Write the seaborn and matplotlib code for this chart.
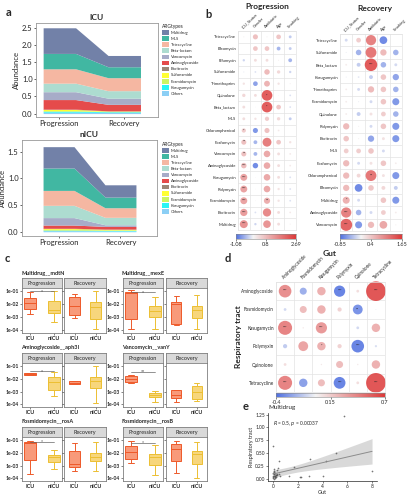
import numpy as np
import pandas as pd
import matplotlib
matplotlib.use("Agg")
import matplotlib.pyplot as plt
import seaborn as sns
from matplotlib.patches import Patch
from matplotlib.colors import LinearSegmentedColormap, TwoSlopeNorm

sns.set_theme(style="ticks")
plt.rcParams['font.family'] = ['Lato', 'DejaVu Sans']

W, H = 413, 500

# ---------------- data ----------------
# a: stacked abundance
arg_types = ["Multidrug", "MLS", "Tetracycline", "Beta-lactam", "Vancomycin", "Aminoglycoside",
             "Bacitracin", "Sulfonamide", "Fosmidomycin", "Kasugamycin", "Others"]
arg_colors = ["#7281A8", "#41B7A2", "#F5B7A2", "#ADDCD0", "#A7ACC8", "#E54B4B",
              "#9D8777", "#FFFF33", "#CCF562", "#2AF5F5", "#8CCFF5"]
stages = ["Progression", "Recovery"]
icu_prog = [0.75, 0.45, 0.42, 0.25, 0.23, 0.28, 0.01, 0.03, 0.02, 0.03, 0.04]
icu_rec = [0.33, 0.32, 0.38, 0.22, 0.18, 0.19, 0.005, 0.01, 0.01, 0.02, 0.035]
nicu_prog = [0.40, 0.42, 0.28, 0.23, 0.14, 0.06, 0.005, 0.015, 0.015, 0.01, 0.02]
nicu_rec = [0.23, 0.20, 0.18, 0.14, 0.03, 0.05, 0.005, 0.01, 0.01, 0.01, 0.015]

# b: correlation bubbles
b_cols = ["ICU_Status", "Gender", "Antibiotic", "Age", "Smoking"]
prog_rows = ["Tetracycline", "Bleomycin", "Rifamycin", "Sulfonamide", "Trimethoprim", "Quinolone",
             "Beta_lactam", "MLS", "Chloramphenicol", "Fosfomycin", "Vancomycin", "Aminoglycoside",
             "Kasugamycin", "Polymyxin", "Fosmidomycin", "Bacitracin", "Multidrug"]
prog_vals = [[0.1, 0.9, 0.1, 0.8, -0.4],
             [0.0, 0.8, 0.8, -0.6, -0.4],
             [-0.3, 0.4, 0.4, 0.1, -0.6],
             [-0.1, -0.2, 1.0, 0.5, -0.3],
             [0.3, -0.8, 1.1, 0.3, 0.1],
             [0.5, 0.4, 2.6, 0.05, -0.2],
             [0.4, 0.05, 2.6, 0.8, -0.2],
             [0.4, 0.3, 0.7, 0.5, -0.4],
             [0.7, -0.9, 0.9, 0.2, 0.0],
             [0.9, -0.6, 2.0, 0.8, 0.3],
             [0.9, -0.6, 1.3, 0.4, 0.2],
             [1.0, -1.0, 1.3, 0.4, 0.2],
             [1.4, 0.05, 1.3, 0.4, -0.2],
             [1.4, 0.05, 1.3, 0.3, -0.2],
             [1.4, 0.05, 1.2, 0.3, -0.2],
             [1.5, -0.2, 1.8, 0.4, 0.2],
             [1.7, -0.3, 1.6, 0.4, 0.1]]
prog_sig = [("Quinolone", "Antibiotic", "*"), ("Beta_lactam", "Antibiotic", "*"),
            ("Chloramphenicol", "ICU_Status", "*"), ("Fosfomycin", "ICU_Status", "**"),
            ("Vancomycin", "ICU_Status", "**"), ("Aminoglycoside", "ICU_Status", "***"),
            ("Kasugamycin", "ICU_Status", "***"), ("Polymyxin", "ICU_Status", "***"),
            ("Fosmidomycin", "ICU_Status", "***"), ("Fosmidomycin", "Antibiotic", "**"),
            ("Bacitracin", "ICU_Status", "***"), ("Multidrug", "ICU_Status", "***")]
prog_range = (-1.08, 2.69)
prog_ticks = ["-1.08", "0.8", "2.69"]

rec_rows = ["Tetracycline", "Sulfonamide", "Beta_lactam", "Kasugamycin", "Trimethoprim", "Fosmidomycin",
            "Quinolone", "Polymyxin", "Bacitracin", "MLS", "Fosfomycin", "Chloramphenicol",
            "Bleomycin", "Multidrug", "Aminoglycoside", "Vancomycin"]
rec_vals = [[-0.2, 0.4, 1.2, -0.8, 0.0],
            [-0.05, -0.5, 1.3, 0.6, -0.5],
            [0.1, -0.3, 1.6, -0.5, -0.2],
            [-0.05, -0.1, -0.3, 0.5, -0.6],
            [0.1, -0.2, 0.6, 0.5, -0.5],
            [0.1, -0.05, -0.2, 0.5, -0.7],
            [0.1, -0.3, 0.2, 0.4, -0.5],
            [0.6, 0.05, -0.2, 0.5, -0.7],
            [0.5, 0.05, -0.6, 0.2, -0.7],
            [0.4, 0.4, 0.5, -0.2, 0.0],
            [0.6, -0.2, 0.2, 0.5, 0.1],
            [0.6, 0.3, 1.3, 0.2, -0.7],
            [0.6, -0.8, 0.5, 0.3, -0.3],
            [0.7, -0.2, 0.0, 0.5, -0.7],
            [1.2, -0.5, -0.2, 0.4, 0.1],
            [1.5, -0.7, 0.6, 0.8, 0.05]]
rec_sig = [("Beta_lactam", "Antibiotic", "***"), ("Chloramphenicol", "Antibiotic", "**"),
           ("Multidrug", "ICU_Status", "*"), ("Aminoglycoside", "ICU_Status", "***"),
           ("Vancomycin", "ICU_Status", "***")]
rec_range = (-0.85, 1.65)
rec_ticks = ["-0.85", "0.4", "1.65"]

# c: box summaries, log10 [min, q1, median, q3, max] for ICU/nICU x Progression/Recovery
mdtN = [[-2.74, -2.36, -1.9, -1.51, -1.05], [-3.38, -2.67, -2.41, -1.77, -1.0],
        [-3.05, -2.8, -2.1, -1.46, -1.2], [-3.9, -3.1, -2.23, -1.82, -1.0]]
mexE = [[-3.9, -3.1, -1.15, -1.08, -0.9], [-3.9, -3.0, -2.52, -2.1, -1.47],
        [-3.6, -3.5, -2.0, -1.85, -1.35], [-3.9, -3.05, -2.45, -2.1, -1.28]]
aph3I = [[-1.68, -1.66, -1.6, -1.55, -1.53], [-3.3, -2.87, -2.25, -1.85, -1.45],
         [-2.4, -2.38, -2.28, -2.15, -2.13], [-3.85, -2.73, -2.15, -1.85, -1.0]]
vanY = [[-2.3, -2.2, -2.0, -1.8, -1.68], [-3.8, -3.42, -3.25, -3.12, -2.92],
        [-3.8, -3.5, -3.25, -2.88, -2.86], [-3.75, -3.55, -3.05, -2.55, -2.33]]
rosA = [[-3.63, -2.55, -1.2, -1.15, -1.08], [-3.25, -2.68, -2.33, -2.18, -1.75],
        [-3.43, -3.08, -2.88, -1.83, -1.25], [-3.43, -2.63, -2.3, -2.0, -1.13]]
rosB = [[-2.8, -2.45, -1.95, -1.47, -1.08], [-3.7, -2.95, -2.32, -2.05, -1.34],
        [-3.6, -2.63, -1.68, -1.26, -1.08], [-3.95, -2.87, -2.08, -1.87, -1.13]]
genes = ["Multidrug__mdtN", "Multidrug__mexE", "Aminoglycoside__aph3I",
         "Vancomycin__vanY", "Fosmidomycin__rosA", "Fosmidomycin__rosB"]
gene_vals = [mdtN, mexE, aph3I, vanY, rosA, rosB]
sig_level = [-1.0, -1.08, -1.4, -1.45, -1.12, -1.2]
sig_text = ["*", "*", "*", "**", "*", "*"]
groups = ["ICU", "nICU"]
log_ticks = [-4, -3, -2, -1]
log_labels = ["1e-04", "1e-03", "1e-02", "1e-01"]

# d: gut vs respiratory tract
d_names = ["Aminoglycoside", "Fosmidomycin", "Kasugamycin", "Polymyxin", "Quinolone", "Tetracycline"]
d_vals = [[0.45, -0.25, 0.3, -0.4, 0.1, 0.7],
          [-0.1, 0.25, 0.3, 0.15, -0.35, -0.03],
          [0.5, 0.05, 0.4, 0.0, -0.1, 0.3],
          [-0.15, 0.35, 0.3, 0.15, -0.45, -0.08],
          [0.1, 0.0, 0.05, 0.25, 0.05, 0.3],
          [0.5, -0.3, 0.25, -0.42, 0.1, 0.75]]
d_sig = [("Aminoglycoside", "Aminoglycoside", "***"), ("Aminoglycoside", "Polymyxin", "***"),
         ("Aminoglycoside", "Tetracycline", "***"), ("Fosmidomycin", "Quinolone", "**"),
         ("Kasugamycin", "Aminoglycoside", "***"), ("Kasugamycin", "Kasugamycin", "***"),
         ("Polymyxin", "Kasugamycin", "*"), ("Polymyxin", "Quinolone", "***"),
         ("Tetracycline", "Aminoglycoside", "***"), ("Tetracycline", "Polymyxin", "***"),
         ("Tetracycline", "Tetracycline", "***")]
d_range = (-0.4, 0.7)
d_ticks = ["-0.4", "0.15", "0.7"]

# e: multidrug scatter
gut = [0.0, 5.7, 5.13, 3.03, 4.26, 1.7, 0.45, 0.37, 0.3, 1.3, 2.15, 2.3, 2.95, 4.05, 8.0,
       0.58, 0.05, 0.1, 0.15, 0.2, 0.08, 0.25, 0.0, 0.12, 0.02, 0.06, 0.18, 0.3, 0.1, 0.22,
       0.04, 0.14, 0.35, 0.01, 0.28, 0.09, 0.5, 0.16]
resp = [0.64, 1.22, 0.5, 0.38, 0.34, 0.23, 0.34, 0.21, 0.17, 0.06, 0.03, 0.04, 0.06, 0.05, 0.15,
        0.05, 0.1, 0.05, 0.12, 0.02, 0.0, 0.07, 0.03, 0.2, 0.06, 0.09, 0.04, 0.1, 0.13, 0.08,
        0.01, 0.06, 0.07, 0.12, 0.03, 0.15, 0.09, 0.05]

cmap = LinearSegmentedColormap.from_list("rb", ["#4F70E0", "#F4F4F4", "#DC3A3A"])

fig = plt.figure(figsize=(W / 100, H / 100), dpi=100)


def px_axes(x0, y0, x1, y1):
    return fig.add_axes([x0 / W, 1 - y1 / H, (x1 - x0) / W, (y1 - y0) / H])


def px_text(x, y, s, **kw):
    fig.text(x / W, 1 - y / H, s, **kw)


def gray_box(ax, c="#999999", lw=0.6):
    for sp in ax.spines.values():
        sp.set_visible(True)
        sp.set_color(c)
        sp.set_linewidth(lw)


#####################
# a
#####################
def area_panel(box, title, prog, rec, xlim, ylim, yticks, leg_xy):
    ax = px_axes(*box)
    xs = [0.75, 1.25, 1.75, 2.25]
    layers = [[p, p, r, r] for p, r in zip(prog, rec)][::-1]
    ax.stackplot(xs, *layers, colors=arg_colors[::-1], linewidth=0)
    ax.set_xlim(xlim)
    ax.set_ylim(ylim)
    ax.set_xticks([1, 2], stages)
    ax.set_yticks(yticks)
    ax.tick_params(labelsize=5.5, length=1.5, pad=1, width=0.5)
    ax.set_ylabel("Abundance", fontsize=5.5, labelpad=1)
    ax.set_title(title, fontsize=6, fontweight="bold", pad=2)
    gray_box(ax)
    handles = [Patch(facecolor=c, edgecolor="none", label=l) for l, c in zip(arg_types, arg_colors)]
    leg = ax.legend(handles=handles, title="ARGtypes", loc="upper left",
                    bbox_to_anchor=(leg_xy[0] / W, 1 - leg_xy[1] / H), bbox_transform=fig.transFigure,
                    frameon=False, fontsize=3, title_fontsize=3.5, handlelength=1.6, handleheight=1.4,
                    labelspacing=0.3, borderaxespad=0, borderpad=0, handletextpad=0.5)
    leg._legend_box.align = "left"


area_panel((36, 23, 158, 117), "ICU", icu_prog, icu_rec, (0.64, 2.52), (-0.1, 2.65),
           [0, 0.5, 1.0, 1.5, 2.0, 2.5], (162, 24))
area_panel((22, 140, 157, 236), "nICU", nicu_prog, nicu_rec, (0.41, 2.59), (-0.08, 1.72),
           [0, 0.5, 1.0, 1.5], (162, 142))


#####################
# b and d: bubbles
#####################
def bubble(box, rows, cols, vals, sig, vrange, expo, smax, fs):
    ax = px_axes(*box)
    nr, nc = len(rows), len(cols)
    rr, cc = np.meshgrid(np.arange(nr), np.arange(nc), indexing="ij")
    v = np.array(vals, float)
    vabs = max(abs(vrange[0]), abs(vrange[1]))
    df = pd.DataFrame({"col": cc.ravel(), "row": rr.ravel(), "value": v.ravel()})
    df["area"] = (np.abs(df["value"]) / vabs) ** (2 * expo)
    for i in range(nr + 1):
        ax.axhline(i - 0.5, color="#E3E3E3", lw=0.5, zorder=0)
    for j in range(nc + 1):
        ax.axvline(j - 0.5, color="#E3E3E3", lw=0.5, zorder=0)
    norm = TwoSlopeNorm(0, vrange[0], vrange[1])
    sns.scatterplot(data=df, x="col", y="row", hue="value", palette=cmap, hue_norm=norm,
                    size="area", sizes=(0, smax), size_norm=(0, 1), linewidth=0, alpha=0.85,
                    legend=False, ax=ax, clip_on=False, zorder=2)
    for r, c, s in sig:
        ax.text(cols.index(c), rows.index(r), s, ha="center", va="center", fontsize=2.6,
                color="#222222", zorder=3)
    ax.set_xlim(-0.5, nc - 0.5)
    ax.set_ylim(nr - 0.5, -0.5)
    ax.set_yticks(range(nr), rows, fontsize=fs)
    ax.set_xticks(range(nc), cols, rotation=45, ha="left", rotation_mode="anchor", fontsize=fs)
    ax.xaxis.tick_top()
    ax.tick_params(length=0, pad=1.5)
    ax.set_xlabel("")
    ax.set_ylabel("")
    gray_box(ax, "#E3E3E3", 0.5)
    return ax


def cbar(box, vrange, labels):
    cax = px_axes(*box)
    grad = np.linspace(vrange[0], vrange[1], 256)
    cax.imshow(grad[None, :], cmap=cmap, norm=TwoSlopeNorm(0, vrange[0], vrange[1]),
               aspect="auto", extent=[vrange[0], vrange[1], 0, 1])
    cax.set_yticks([])
    cax.set_xticks([vrange[0], sum(vrange) / 2, vrange[1]], labels, fontsize=4)
    cax.tick_params(length=1.2, pad=1, width=0.4)
    gray_box(cax, "#888888", 0.4)


bubble((238, 31, 296, 230), prog_rows, b_cols, prog_vals, prog_sig, prog_range, 0.7, 62, 3)
cbar((236, 234, 296, 239), prog_range, prog_ticks)
px_text(267, 6, "Progression", fontsize=6, fontweight="bold", ha="center", va="center")

bubble((340, 34, 402, 231), rec_rows, b_cols, rec_vals, rec_sig, rec_range, 0.7, 85, 3)
cbar((340, 234, 402, 239), rec_range, rec_ticks)
px_text(375, 8, "Recovery", fontsize=6, fontweight="bold", ha="center", va="center")

bubble((276, 282, 385, 392), d_names, d_names, d_vals, d_sig, d_range, 1.0, 200, 3.3)
cbar((276, 393, 385, 397), d_range, d_ticks)
px_text(330, 253, "Gut", fontsize=6, fontweight="bold", ha="center", va="center")
px_text(238, 337, "Respiratory tract", fontsize=6, fontweight="bold", ha="center", va="center",
        rotation=90)


#####################
# c: faceted boxplots (log10 abundance)
#####################
box_fill = ["#F89A7A", "#F7D67C"]
box_edge = ["#EE5A2A", "#ECBF32"]
row_pos = [(273, 278, 288, 333), (347, 353, 363, 407), (422, 427, 437, 481)]
col_pos = [[(22, 62), (64, 106)], [(123, 163), (166, 207)]]

for gi, (gname, vals) in enumerate(zip(genes, gene_vals)):
    ty, st, sb, pb = row_pos[gi // 2]
    facets = col_pos[gi % 2]
    px_text(facets[0][0] - 1, ty, gname, fontsize=4, fontweight="bold", va="center")
    for k, (x0, x1) in enumerate(facets):
        sax = px_axes(x0, st, x1, sb)
        sax.set_facecolor("#D9D9D9")
        sax.set_xticks([])
        sax.set_yticks([])
        gray_box(sax, "#7F7F7F", 0.6)
        sax.text(0.5, 0.45, stages[k], transform=sax.transAxes, ha="center", va="center", fontsize=4)
        ax = px_axes(x0, sb, x1, pb)
        for g in range(2):
            df = pd.DataFrame({"group": groups[g], "value": vals[2 * k + g]})
            sns.boxplot(data=df, x="group", y="value", order=groups, color=box_fill[g],
                        linecolor=box_edge[g], saturation=1, width=0.5, whis=(0, 100),
                        linewidth=0.7, ax=ax)
        ax.set_ylim(-4.2, -0.74)
        ax.set_yticks(log_ticks)
        if k == 0:
            ax.set_yticklabels(log_labels, fontsize=3.6, fontweight="bold")
            y = sig_level[gi]
            ax.plot([0, 1], [y, y], color="#666666", lw=0.5)
            ax.text(0.5, y, sig_text[gi], ha="center", va="center", fontsize=3.5, color="#333333")
        else:
            ax.set_yticklabels([])
            ax.tick_params(axis="y", length=0)
        ax.set_xticks([0, 1], groups, fontsize=4, fontweight="bold")
        ax.tick_params(length=1.2, pad=1, width=0.4)
        ax.set_xlabel("")
        ax.set_ylabel("")
        gray_box(ax, "#7F7F7F", 0.6)


#####################
# e: regression with analytic 95% band
#####################
ax = px_axes(268, 413, 377, 481)
gx = np.array(gut)
gy = np.array(resp)
slope, icpt = np.polyfit(gx, gy, 1)
resid = gy - (icpt + slope * gx)
s_res = np.sqrt(np.sum(resid ** 2) / (len(gx) - 2))
xg = np.linspace(gx.min(), gx.max(), 100)
se = s_res * np.sqrt(1 / len(gx) + (xg - gx.mean()) ** 2 / np.sum((gx - gx.mean()) ** 2))
fit = icpt + slope * xg
ax.fill_between(xg, fit - 2.03 * se, fit + 2.03 * se, color="#D0D0D0", alpha=0.8, linewidth=0)
sns.regplot(x=gut, y=resp, ax=ax, ci=None, color="#888888",
            scatter_kws=dict(s=1.5, color="#555555", linewidths=0),
            line_kws=dict(lw=0.7, color="#8C8C8C"))
ax.set_xlim(-0.4, 8.4)
ax.set_ylim(-0.04, 1.28)
ax.set_xticks([0, 2, 4, 6, 8])
ax.set_yticks([0, 0.25, 0.5, 0.75, 1.0, 1.25], ["0.00", "0.25", "0.50", "0.75", "1.00", "1.25"])
ax.tick_params(labelsize=3.5, length=1.2, pad=1, width=0.4)
ax.set_xlabel("Gut", fontsize=4, labelpad=1)
ax.set_ylabel("Respiratory tract", fontsize=4, labelpad=1)
for sp in ["left", "bottom"]:
    ax.spines[sp].set_linewidth(0.5)
sns.despine(ax=ax)
ax.text(0.0, 1.05, r"$R$ = 0.5, $p$ = 0.00037", fontsize=3.5)
px_text(268, 407, "Multidrug", fontsize=4.5, va="center")

# panel letters
for x, y, s in [(6, 12, "a"), (205, 14, "b"), (5, 258, "c"), (225, 258, "d"), (243, 406, "e")]:
    px_text(x, y, s, fontsize=8, fontweight="bold", va="center")

fig.savefig("out.png", dpi=100)
